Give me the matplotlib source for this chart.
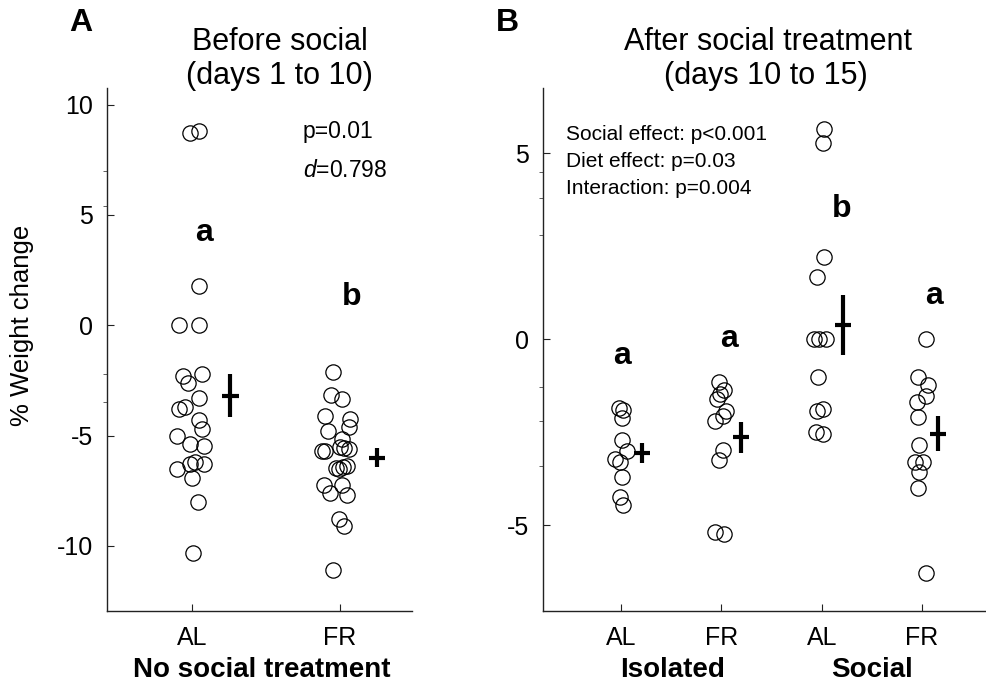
import matplotlib
matplotlib.use('Agg')
import matplotlib.pyplot as plt
import numpy as np

plt.rcParams['font.family'] = ['Liberation Sans', 'DejaVu Sans']
plt.rcParams['mathtext.fontset'] = 'custom'
plt.rcParams['mathtext.it'] = 'Liberation Sans:italic'
plt.rcParams['mathtext.rm'] = 'Liberation Sans'
plt.rcParams['axes.unicode_minus'] = False

## Panel A: % weight change, days 1 to 10
a_groups = ['AL', 'FR']
a_al = [8.7, 8.8, 1.8, 0.0, 0.0, -2.3, -2.6, -2.2, -3.3, -3.8, -3.7, -4.3,
        -4.7, -5.0, -5.4, -5.45, -6.2, -6.3, -6.3, -6.5, -6.9, -8.0, -10.3]
a_al_dx = [-0.01, 0.05, 0.05, -0.09, 0.05, -0.06, -0.03, 0.07, 0.05, -0.09, -0.05, 0.05,
           0.07, -0.1, -0.01, 0.08, 0.02, -0.01, 0.08, -0.1, 0.0, 0.04, 0.01]
a_fr = [-2.1, -3.14, -3.35, -4.1, -4.26, -4.62, -4.77, -5.15, -5.68, -5.68, -5.53, -5.56,
        -5.62, -6.47, -6.51, -6.44, -6.36, -7.23, -7.58, -7.23, -7.71, -8.79, -9.09, -11.1]
a_fr_dx = [-0.05, -0.06, 0.01, -0.1, 0.07, 0.06, -0.08, 0.01, -0.12, -0.1, 0.0, 0.03,
           0.06, -0.03, -0.01, 0.02, 0.05, -0.11, -0.07, 0.01, 0.05, -0.01, 0.03, -0.05]
a_mean = [-3.2, -6.0]
a_sem = [0.97, 0.42]
a_letters = ['a', 'b']
a_letter_y = [4.2, 1.3]

## Panel B: % weight change, days 10 to 15
b_groups = ['AL', 'FR', 'AL', 'FR']
b_iso_al = [-1.85, -1.91, -2.12, -2.71, -3.01, -3.23, -3.30, -3.72, -4.24, -4.46]
b_iso_al_dx = [-0.02, 0.02, 0.01, 0.01, 0.06, -0.06, -0.01, 0.01, -0.01, 0.02]
b_iso_fr = [-1.15, -1.37, -1.48, -1.61, -1.94, -2.07, -2.2, -2.98, -3.25, -5.18, -5.24]
b_iso_fr_dx = [-0.02, 0.03, -0.01, -0.04, 0.05, 0.02, -0.06, 0.02, -0.02, -0.06, 0.03]
b_soc_al = [5.66, 5.26, 2.21, 1.67, 0.0, 0.0, 0.0, -1.01, -1.94, -1.88, -2.49, -2.54]
b_soc_al_dx = [0.02, 0.01, 0.02, -0.05, -0.08, -0.03, 0.04, -0.04, -0.05, 0.01, -0.06, 0.01]
b_soc_fr = [0.0, -1.01, -1.24, -1.53, -1.69, -2.09, -2.85, -3.3, -3.3, -3.57, -4.01, -6.3]
b_soc_fr_dx = [0.04, -0.04, 0.06, 0.04, -0.05, -0.04, -0.03, -0.07, 0.01, -0.03, -0.04, 0.04]
b_mean = [-3.07, -2.64, 0.38, -2.54]
b_sem = [0.27, 0.42, 0.8, 0.47]
b_letters = ['a', 'a', 'b', 'a']
b_letter_y = [-0.45, 0.0, 3.5, 1.15]


def draw_group(ax, pos, vals, dx, mean, sem, cross_dx, half):
    ax.plot(pos + np.array(dx), vals, 'o', mfc='none', mec='black', mew=0.9,
            ms=11, zorder=3)
    cx = pos + cross_dx
    ax.plot([cx, cx], [mean - sem, mean + sem], color='black', lw=3,
            solid_capstyle='butt', zorder=4)
    ax.plot([cx - half, cx + half], [mean, mean], color='black', lw=3,
            solid_capstyle='butt', zorder=4)


def style_axis(ax):
    ax.spines['top'].set_visible(False)
    ax.spines['right'].set_visible(False)
    for s in ['left', 'bottom']:
        ax.spines[s].set_linewidth(1.0)
        ax.spines[s].set_color('#222222')
    ax.tick_params(axis='y', which='major', direction='in', length=5,
                   labelsize=18, pad=10, color='#222222')
    ax.tick_params(axis='y', which='minor', direction='out', length=3,
                   color='#444444')
    ax.tick_params(axis='x', direction='in', length=5, labelsize=18, pad=11,
                   color='#222222')


fig = plt.figure(figsize=(9.87, 6.87), dpi=100)

##------------------------------ Panel A ------------------------------
axA = fig.add_axes([0.1084, 0.1106, 0.309, 0.7613])
draw_group(axA, 1, a_al, a_al_dx, a_mean[0], a_sem[0], 0.26, 0.055)
draw_group(axA, 2, a_fr, a_fr_dx, a_mean[1], a_sem[1], 0.25, 0.055)
for i, (lt, ly) in enumerate(zip(a_letters, a_letter_y)):
    axA.text(1 + i + 0.08, ly, lt, ha='center', va='center', fontsize=23,
             fontweight='bold')
axA.set_xlim(0.426, 2.486)
axA.set_ylim(-12.95, 10.75)
axA.set_xticks([1, 2])
axA.set_xticklabels(a_groups)
axA.set_yticks([-10, -5, 0, 5, 10])
axA.set_yticks([7.0, 5.4, -2.2, -3.5], minor=True)
style_axis(axA)
axA.text(1.75, 8.8, 'p=0.01', fontsize=16.5, va='center', ha='left')
axA.text(1.75, 7.0, r'$\it{d}$=0.798', fontsize=16.5, va='center', ha='left')

##------------------------------ Panel B ------------------------------
axB = fig.add_axes([0.5502, 0.1106, 0.448, 0.7613])
b_sets = [(b_iso_al, b_iso_al_dx, 0.21), (b_iso_fr, b_iso_fr_dx, 0.2),
          (b_soc_al, b_soc_al_dx, 0.21), (b_soc_fr, b_soc_fr_dx, 0.16)]
for i, (vals, dx, cdx) in enumerate(b_sets):
    draw_group(axB, i + 1, vals, dx, b_mean[i], b_sem[i], cdx, 0.08)
letter_dx = [0.01, 0.08, 0.2, 0.12]
for i, (lt, ly) in enumerate(zip(b_letters, b_letter_y)):
    axB.text(i + 1 + letter_dx[i], ly, lt, ha='center', va='center',
             fontsize=23, fontweight='bold')
axB.set_xlim(0.222, 4.63)
axB.set_ylim(-7.31, 6.75)
axB.set_xticks([1, 2, 3, 4])
axB.set_xticklabels(b_groups)
axB.set_yticks([-5, 0, 5])
axB.set_yticks([4.5, 3.8, 2.8, -1.3, -2.2, -3.4], minor=True)
style_axis(axB)
axB.text(0.45, 5.5, 'Social effect: p<0.001', fontsize=15, va='center')
axB.text(0.45, 4.78, 'Diet effect: p=0.03', fontsize=15, va='center')
axB.text(0.45, 4.05, 'Interaction: p=0.004', fontsize=15, va='center')

## Titles, panel letters and group labels
fig.text(0.0815, 0.966, 'A', fontsize=23, fontweight='bold', ha='center', va='center')
fig.text(0.5145, 0.966, 'B', fontsize=23, fontweight='bold', ha='center', va='center')
fig.text(0.284, 0.939, 'Before social', fontsize=22, ha='center', va='center')
fig.text(0.283, 0.889, '(days 1 to 10)', fontsize=22, ha='center', va='center')
fig.text(0.778, 0.939, 'After social treatment', fontsize=22, ha='center', va='center')
fig.text(0.776, 0.889, '(days 10 to 15)', fontsize=22, ha='center', va='center')
fig.text(0.022, 0.527, '% Weight change', fontsize=18.5, rotation=90,
         ha='center', va='center')
fig.text(0.265, 0.025, 'No social treatment', fontsize=20, fontweight='bold',
         ha='center', va='center')
fig.text(0.681, 0.025, 'Isolated', fontsize=20, fontweight='bold',
         ha='center', va='center')
fig.text(0.884, 0.025, 'Social', fontsize=20, fontweight='bold',
         ha='center', va='center')

fig.savefig('out.png', dpi=100)
